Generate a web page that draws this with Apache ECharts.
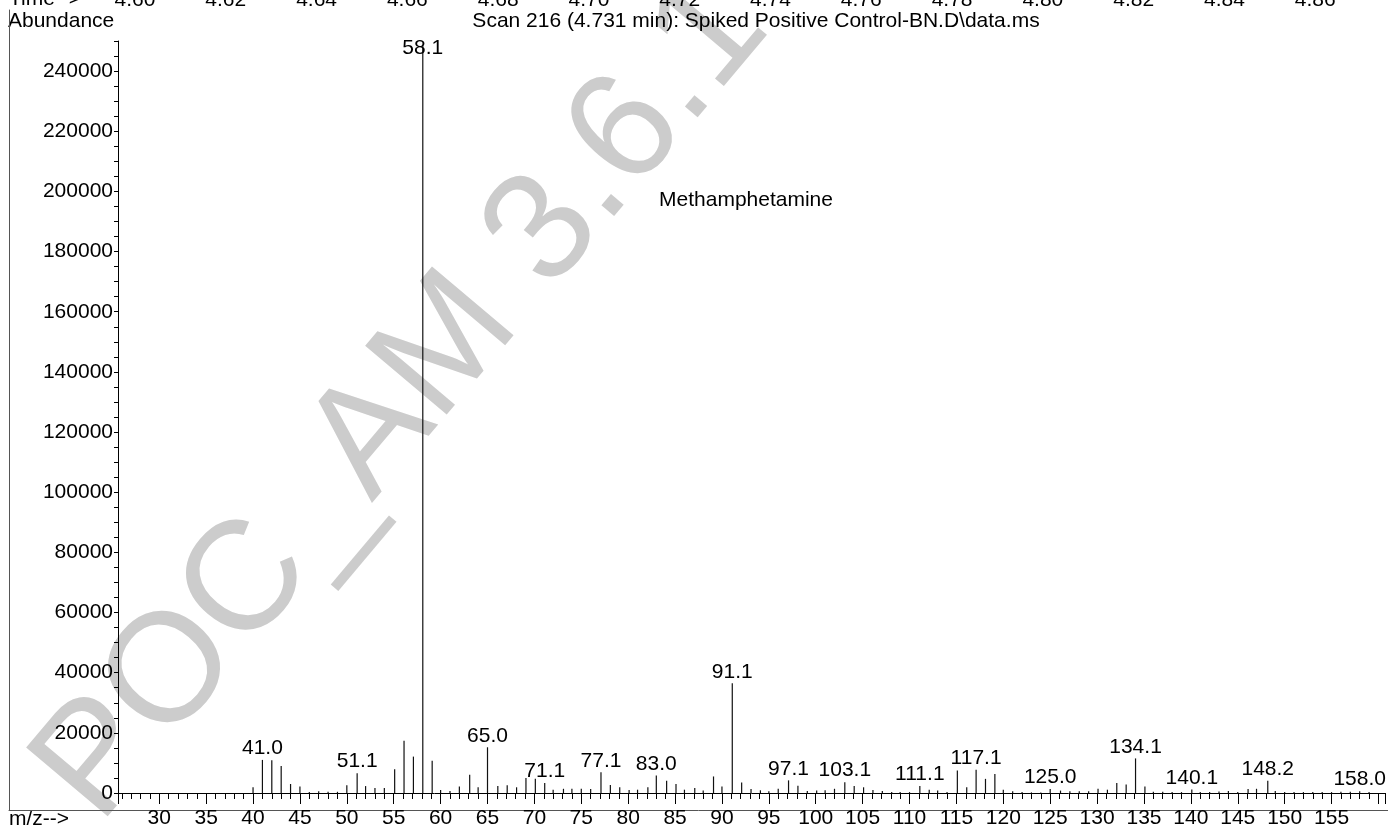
<!DOCTYPE html>
<html><head><meta charset="utf-8">
<script src="https://cdn.jsdelivr.net/npm/echarts@6/dist/echarts.min.js"></script>
<style>html,body{margin:0;padding:0;background:#fff}#c{width:1388px;height:829px}</style>
</head><body><div id="c"></div>
<script>
// ---- data ----
const mzValues = [40,41.0,42,43,44,45,46,47,48,49,50,51.1,52,53,54,55.1,56.1,57.1,58.1,59.1,60,61,62,63.1,64,65.0,66.1,67.1,68.1,69.1,70.1,71.1,72,73.1,74,75,76,77.1,78.1,79.1,80.1,81,82.1,83.0,84.1,85.1,86,87.1,88,89.1,90,91.1,92.1,93.1,94.1,95,96,97.1,98.1,99.1,100.1,101,102,103.1,104.1,105.1,106.1,107.1,108.1,109,110,111.1,112.1,113,114,115.1,116.1,117.1,118.1,119.1,120,121,122,123,124,125.0,126.1,127.1,128.1,129.1,130.1,131.1,132.1,133.1,134.1,135.1,136,137,138,139,140.1,141,142,143,144,145,146.1,147,148.2,149,150,151,152,153,154,155,156,157,158.0,159];
const abundances = [1900,11000,10900,9000,3000,2200,300,600,400,400,2600,6600,2300,1700,1700,7900,17400,12100,248600,10700,1000,700,2200,6100,1900,15200,2300,2600,1900,5000,4700,3300,1100,1400,1400,1400,1300,6900,2700,1900,1000,1100,1900,5800,4100,3000,1100,1700,800,5500,2200,36500,3500,1300,900,550,1400,4200,2400,650,800,900,1400,3600,2300,1900,1000,650,350,350,300,2300,1100,800,300,7500,1900,7700,4700,6300,1100,550,350,200,200,1300,800,550,550,550,1400,1100,3300,2800,11500,2200,400,400,300,300,1200,300,300,500,700,300,1300,1400,4100,700,300,300,300,300,300,300,400,400,600,300];
const labeledPeaks = [41.0,51.1,58.1,65.0,71.1,77.1,83.0,91.1,97.1,103.1,111.1,117.1,125.0,134.1,140.1,148.2,158.0];
const timeTicks = ['4.60','4.62','4.64','4.66','4.68','4.70','4.72','4.74','4.76','4.78','4.80','4.82','4.84','4.86'];
const mzRange = [25.6, 160.7];
const abundanceRange = [0, 250000];
const titleText = 'Scan 216 (4.731 min): Spiked Positive Control-BN.D\\data.ms';
const compoundName = 'Methamphetamine';
const watermarkText = 'POC_AM 3.6.1';

const FONT = 'Liberation Sans, Arial, sans-serif';
const FS = 21;
const chart = echarts.init(document.getElementById('c'), null, {renderer: 'canvas'});

const basePeakIndex = abundances.indexOf(Math.max(...abundances));
const barData = mzValues.map((m, i) => {
  const item = {value: [m, abundances[i]]};
  if (labeledPeaks.includes(m)) item.label = {show: true, formatter: m.toFixed(1)};
  return item;
});

const option = {
  animation: false,
  backgroundColor: '#fff',
  textStyle: {fontFamily: FONT},
  grid: [
    {left: 89.6, width: 1271, top: 10, height: 10, show: false},      // time strip
    {left: 9, top: 10, right: -5, bottom: 19, show: false},           // frame
    {left: 118, top: 41, right: 0, bottom: 34, show: false}           // spectrum
  ],
  xAxis: [
    {gridIndex: 0, type: 'category', data: timeTicks, position: 'top', boundaryGap: true,
     axisLine: {show: false}, axisTick: {show: false}, splitLine: {show: false},
     axisLabel: {fontSize: FS, color: '#000', margin: 9, fontFamily: FONT}},
    {gridIndex: 1, type: 'value', min: 0, max: 1, position: 'top',
     axisLine: {show: true, lineStyle: {color: '#555', width: 1}}, axisTick: {show: false},
     axisLabel: {show: false}, splitLine: {show: false}},
    {gridIndex: 2, type: 'value', min: mzRange[0], max: mzRange[1], position: 'bottom', offset: 0,
     splitNumber: 27, minInterval: 5, maxInterval: 5,
     axisLine: {show: true, onZero: false, lineStyle: {color: '#000', width: 1}},
     axisTick: {show: true, length: 11, lineStyle: {color: '#000'}},
     axisLabel: {fontSize: FS, color: '#000', margin: 15, fontFamily: FONT,
       formatter: v => (Math.abs(v % 5) < 1e-6 && v < 159) ? String(Math.round(v)) : ''},
     splitLine: {show: false}},
    {gridIndex: 2, type: 'value', min: mzRange[0], max: mzRange[1], position: 'bottom', offset: 0,
     splitNumber: 135, minInterval: 1, maxInterval: 1,
     axisLine: {show: false, onZero: false},
     axisTick: {show: true, length: 6, lineStyle: {color: '#000'}},
     axisLabel: {show: false}, splitLine: {show: false}}
  ],
  yAxis: [
    {gridIndex: 0, type: 'value', show: false},
    {gridIndex: 1, type: 'value', min: 0, max: 1,
     axisLine: {show: true, lineStyle: {color: '#555', width: 1}}, axisTick: {show: false},
     axisLabel: {show: false}, splitLine: {show: false}},
    {gridIndex: 2, type: 'value', min: abundanceRange[0], max: abundanceRange[1], interval: 5000,
     axisLine: {show: true, onZero: false, lineStyle: {color: '#000', width: 1}},
     axisTick: {show: true, length: 4, lineStyle: {color: '#000'}},
     axisLabel: {fontSize: FS, color: '#000', margin: 5, fontFamily: FONT,
       formatter: v => (v % 20000 === 0) ? String(v) : ''},
     splitLine: {show: false}}
  ],
  series: [{
    type: 'bar', xAxisIndex: 2, yAxisIndex: 2, data: barData,
    barWidth: 1.2, itemStyle: {color: '#111'},
    label: {show: false, position: 'top', distance: 1, fontSize: FS, color: '#000', fontFamily: FONT},
    labelLayout: p => (p.dataIndex === basePeakIndex ? {dy: 14} : {}),
    z: 3
  }],
  graphic: [
    {type: 'text', z: -10, x: 403, y: 400, rotation: 0.87,
     style: {text: watermarkText, fill: '#cccccc', font: '155px ' + FONT, textAlign: 'center', textVerticalAlign: 'middle'}},
    {type: 'text', x: 9, y: -0.5, style: {text: 'Time-->', fill: '#000', font: FS + 'px ' + FONT, textAlign: 'left', textVerticalAlign: 'middle'}},
    {type: 'text', x: 8, y: 21, style: {text: 'Abundance', fill: '#000', font: FS + 'px ' + FONT, textAlign: 'left', textVerticalAlign: 'middle'}},
    {type: 'text', x: 756, y: 21, style: {text: titleText, fill: '#000', font: FS + 'px ' + FONT, textAlign: 'center', textVerticalAlign: 'middle'}},
    {type: 'text', x: 746, y: 200, style: {text: compoundName, fill: '#000', font: FS + 'px ' + FONT, textAlign: 'center', textVerticalAlign: 'middle'}},
    {type: 'text', x: 9, y: 819, style: {text: 'm/z-->', fill: '#000', font: FS + 'px ' + FONT, textAlign: 'left', textVerticalAlign: 'middle'}}
  ]
};
chart.setOption(option);
</script></body></html>
